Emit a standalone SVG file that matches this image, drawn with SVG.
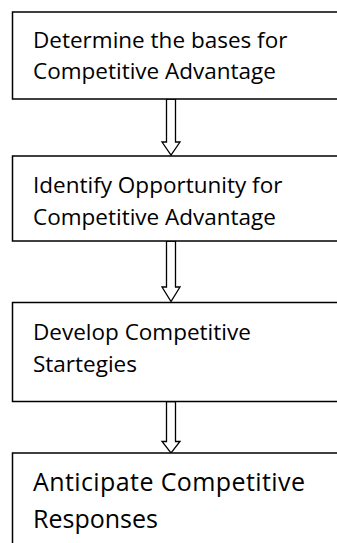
<svg xmlns="http://www.w3.org/2000/svg" width="337" height="543" viewBox="0 0 337 543">
<style>
.box{fill:#fff;stroke:#000;stroke-width:1.5}
.arr{fill:#fff;stroke:#000;stroke-width:1.3;stroke-linejoin:miter}
text{font-family:"Open Sans","Liberation Sans",sans-serif;font-size:22.5px;fill:#000;font-variant-ligatures:none}
.big{font-size:25px}
</style>
<rect width="337" height="543" fill="#fff"/>
<g id="connectors">
<polygon class="arr" points="166.5,99 166.5,142 162,142 171,155 180,142 175.5,142 175.5,99"/>
<polygon class="arr" points="166.5,241 166.5,287 162,287 171,301.5 180,287 175.5,287 175.5,241"/>
<polygon class="arr" points="166.5,401.5 166.5,441.5 162,441.5 171,453 180,441.5 175.5,441.5 175.5,401.5"/>
</g>
<g id="node1">
<rect class="box" x="12.5" y="12" width="340" height="87"/>
<text x="33" y="47.5">Determine the bases for</text>
<text x="33" y="79">Competitive Advantage</text>
</g>
<g id="node2">
<rect class="box" x="12.5" y="156" width="340" height="85"/>
<text x="33" y="192.7">Identify Opportunity for</text>
<text x="33" y="225">Competitive Advantage</text>
</g>
<g id="node3">
<rect class="box" x="12.5" y="302.5" width="340" height="99"/>
<text x="33" y="340">Develop Competitive</text>
<text x="33" y="371.7">Startegies</text>
</g>
<g id="node4">
<rect class="box" x="12.5" y="453" width="340" height="110"/>
<text class="big" x="33" y="490.7" textLength="272">Anticipate Competitive</text>
<text class="big" x="33" y="528">Responses</text>
</g>
</svg>
